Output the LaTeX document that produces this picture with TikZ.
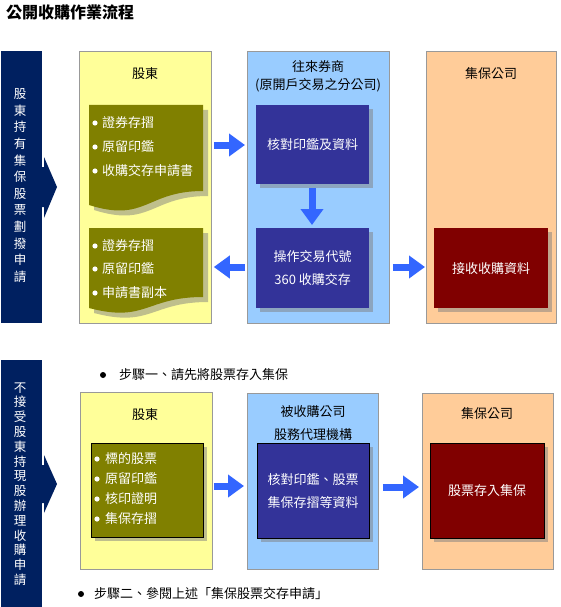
\documentclass[tikz,border=0pt]{standalone}
\usepackage{fontspec}
\setmainfont{Noto Sans CJK TC}
\usetikzlibrary{arrows.meta,shadows}
\definecolor{navy}{RGB}{0,32,96}
\definecolor{lyellow}{HTML}{FFFF99}
\definecolor{lblue}{HTML}{99CCFF}
\definecolor{lorange}{HTML}{FFCC99}
\definecolor{olivebox}{HTML}{808000}
\definecolor{dblue}{HTML}{333399}
\definecolor{dred}{HTML}{800000}
\definecolor{arrblue}{HTML}{3366FF}
\definecolor{bordergray}{HTML}{999999}
\tikzset{
  panel/.style={draw=bordergray, line width=0.8pt, anchor=north west, inner sep=0pt},
  inbox/.style={anchor=north west, inner sep=0pt, drop shadow={shadow xshift=4pt, shadow yshift=-4pt, fill=black!50, opacity=.5}},
  ttl/.style={font=\fontsize{13}{15}\selectfont, text=black, inner sep=0pt},
  wtxt/.style={font=\fontsize{13}{15}\selectfont, text=white, inner sep=0pt},
  btxt/.style={font=\fontsize{13}{15}\selectfont, text=black, inner sep=0pt, anchor=west},
  barrow/.style={arrblue, line width=7pt, -{Triangle[width=22pt,length=16pt]}},
  shad/.style={fill=black!50, opacity=.5},
}
\begin{document}
\begin{tikzpicture}[x=1pt,y=-1pt]
\path[use as bounding box, fill=white] (0,0) rectangle (560,607);

% title
\node[anchor=west, inner sep=0pt, font=\fontsize{16}{18}\selectfont\bfseries] (title) at (6,12) {公開收購作業流程};

% ===== Section 1 =====
% left navy bar
\fill[navy] (1,51) rectangle (42,323);
\fill[navy] (42,167) -- (44,167) -- (44,157) -- (57,187) -- (44,218) -- (44,207) -- (42,207) -- cycle;
\node[wtxt, align=center, font=\fontsize{12.5}{16.6}\selectfont] (lab1) at (20,185.5)
  {股\\東\\持\\有\\集\\保\\股\\票\\劃\\撥\\申\\請};

% panels
\node[panel, fill=lyellow, minimum width=132pt, minimum height=272pt] (yel1) at (79,51) {};
\node[panel, fill=lblue, minimum width=142pt, minimum height=272pt] (blu1) at (247,51) {};
\node[panel, fill=lorange, minimum width=130pt, minimum height=272pt] (ora1) at (426,51) {};

\node[ttl] (t1a) at (145,74) {股東};
\node[ttl] (t1b) at (318,67) {往來券商};
\node[ttl] (t1c) at (318,85) {(原開戶交易之分公司)};
\node[ttl] (t1d) at (491,74) {集保公司};

% document shape 1
\begin{scope}[shift={(5,5)}]
\fill[shad] (89,105) -- (203,105) -- (203,191) .. controls (146,191) and (146,223) .. (89,205) -- cycle;
\end{scope}
\fill[olivebox] (89,105) -- (203,105) -- (203,191) .. controls (146,191) and (146,223) .. (89,205) -- cycle;
\foreach \yy/\tt/\nn in {123/證券存摺/a,147/原留印鑑/b,171/收購交存申請書/c}{
  \fill[white] (95,\yy) circle (2.6);
  \node[wtxt, anchor=west] (da\nn) at (102,\yy) {\tt};
}

% document shape 2
\begin{scope}[shift={(5,5)}]
\fill[shad] (89,228) -- (203,228) -- (203,297) .. controls (146,297) and (146,323) .. (89,308) -- cycle;
\end{scope}
\fill[olivebox] (89,228) -- (203,228) -- (203,297) .. controls (146,297) and (146,323) .. (89,308) -- cycle;
\foreach \yy/\tt/\nn in {246/證券存摺/a,269/原留印鑑/b,293/申請書副本/c}{
  \fill[white] (95,\yy) circle (2.6);
  \node[wtxt, anchor=west] (db\nn) at (102,\yy) {\tt};
}

% dark blue boxes
\node[inbox, fill=dblue, minimum width=113pt, minimum height=79pt] (chk1) at (256,105) {};
\node[wtxt] at (chk1.center) {核對印鑑及資料};
\node[inbox, fill=dblue, minimum width=113pt, minimum height=80pt] (op1) at (256,228) {};
\node[wtxt, align=center, font=\fontsize{13}{23}\selectfont] at (op1.center) {操作交易代號\\360 收購交存};

% dark red box
\node[inbox, fill=dred, minimum width=114pt, minimum height=80pt] (rcv1) at (434,228) {};
\node[wtxt] at (rcv1.center) {接收收購資料};

% arrows section 1
\draw[barrow, shorten <=2pt, shorten >=2pt] (yel1.east |- 0,145) -- (blu1.west |- 0,145);
\draw[barrow, shorten <=2pt, shorten >=2pt] (blu1.west |- 0,267) -- (yel1.east |- 0,267);
\draw[barrow, shorten <=4pt, shorten >=3pt] (chk1.south -| 312,0) -- (op1.north -| 312,0);
\draw[barrow, shorten <=3pt, shorten >=1pt] (blu1.east |- 0,267) -- (ora1.west |- 0,267);

% ===== Section 2 =====
\fill[navy] (1,360) rectangle (42,607);
\fill[navy] (42,465) -- (44,465) -- (44,455) -- (57,484) -- (44,513) -- (44,503) -- (42,503) -- cycle;
\node[wtxt, align=center, font=\fontsize{12.5}{14.8}\selectfont] (lab2) at (20,484)
  {不\\接\\受\\股\\東\\持\\現\\股\\辦\\理\\收\\購\\申\\請};

\fill[black] (103,375) circle (3);
\node[btxt] (step1) at (119,375) {步驟一、請先將股票存入集保};

\node[panel, fill=lyellow, minimum width=132pt, minimum height=177pt] (yel2) at (80,392) {};
\node[panel, fill=lblue, minimum width=131pt, minimum height=176pt] (blu2) at (247,393) {};
\node[panel, fill=lorange, minimum width=131pt, minimum height=176pt] (ora2) at (422,393) {};

\node[ttl] (t2a) at (145,415) {股東};
\node[ttl] (t2b) at (313,412) {被收購公司};
\node[ttl] (t2c) at (313,435) {股務代理機構};
\node[ttl] (t2d) at (487,414) {集保公司};

\node[inbox, draw=black, fill=olivebox, minimum width=112pt, minimum height=94pt] (doc3) at (91,443) {};
\foreach \yy/\tt/\nn in {459/標的股票/a,479/原留印鑑/b,499/核印證明/c,519/集保存摺/d}{
  \fill[white] (97,\yy) circle (2.6);
  \node[wtxt, anchor=west] (dc\nn) at (105,\yy) {\tt};
}

\node[inbox, draw=black, fill=dblue, minimum width=112pt, minimum height=95pt] (chk2) at (257,443) {};
\node[wtxt, align=center, font=\fontsize{13}{23}\selectfont] at (chk2.center) {核對印鑑、股票\\集保存摺等資料};

\node[inbox, draw=black, fill=dred, minimum width=114pt, minimum height=95pt] (dep2) at (430,443) {};
\node[wtxt] at (dep2.center) {股票存入集保};

\draw[barrow, shorten <=1pt, shorten >=3pt] (yel2.east |- 0,486) -- (blu2.west |- 0,486);
\draw[barrow, shorten <=4pt, shorten >=3pt] (blu2.east |- 0,487) -- (ora2.west |- 0,487);

\fill[black] (81,594) circle (3);
\node[btxt] (step2) at (94,594) {步驟二、參閱上述「集保股票交存申請」};
\end{tikzpicture}
\end{document}
